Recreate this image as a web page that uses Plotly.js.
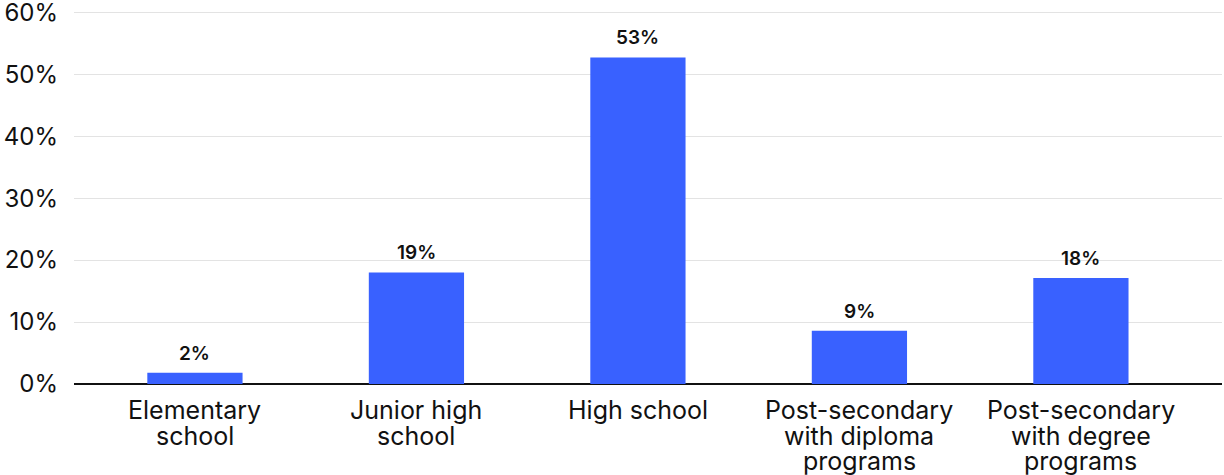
<!DOCTYPE html>
<html>
<head>
<meta charset="utf-8">
<script src="https://cdn.plot.ly/plotly-3.0.1.min.js"></script>
<style>html,body{margin:0;padding:0;background:#fff;}#chart{width:1224px;height:475px;}</style>
</head>
<body>
<div id="chart"></div>
<script>
const categories = ["Elementary school", "Junior high school", "High school", "Post-secondary with diploma programs", "Post-secondary with degree programs"];
const categoryLines = [["Elementary", "school"], ["Junior high", "school"], ["High school"], ["Post-secondary", "with diploma", "programs"], ["Post-secondary", "with degree", "programs"]];
const values = [1.8, 18.0, 52.7, 8.6, 17.1];
const valueLabels = ["2%", "19%", "53%", "9%", "18%"];
const yTickVals = [0, 10, 20, 30, 40, 50, 60];
const yTickText = ["0%", "10%", "20%", "30%", "40%", "50%", "60%"];

const trace = {
  type: "bar",
  x: categories,
  y: values,
  marker: {color: "#3961FF"},
  width: 0.43,
  hoverinfo: "none"
};

const annotations = [];
categories.forEach((c, i) => {
  annotations.push({
    x: c, y: values[i], xref: "x", yref: "y",
    text: valueLabels[i], showarrow: false,
    xanchor: "center", yanchor: "bottom", yshift: 6,
    font: {family: "Inter", size: 19, color: "#111", weight: 600}
  });
  categoryLines[i].forEach((line, j) => {
    annotations.push({
      x: c, y: 0, xref: "x", yref: "y",
      text: line, showarrow: false, borderpad: 0,
      xanchor: "center", yanchor: "middle", yshift: -26 - 25.5 * j,
      font: {family: "Inter", size: 25, color: "#111"}
    });
  });
});

const layout = {
  width: 1224, height: 475,
  margin: {l: 74, r: 2, t: 11, b: 91},
  paper_bgcolor: "#fff", plot_bgcolor: "#fff",
  font: {family: "Inter", size: 24, color: "#111"},
  showlegend: false,
  annotations: annotations,
  xaxis: {
    range: [-0.546, 4.637],
    showgrid: false, zeroline: false, showline: false,
    ticks: "", showticklabels: false,
    fixedrange: true
  },
  yaxis: {
    range: [0, 60.2],
    tickvals: yTickVals, ticktext: yTickText,
    showgrid: true, gridcolor: "#e3e3e3", gridwidth: 1,
    zeroline: true, zerolinecolor: "#111", zerolinewidth: 2,
    showline: false, ticks: "", ticklabelstandoff: 15,
    ticklabeloverflow: "allow",
    tickfont: {family: "Inter", size: 24, color: "#111"},
    fixedrange: true
  }
};

Plotly.newPlot("chart", [trace], layout, {displayModeBar: false, staticPlot: true});
</script>
</body>
</html>
